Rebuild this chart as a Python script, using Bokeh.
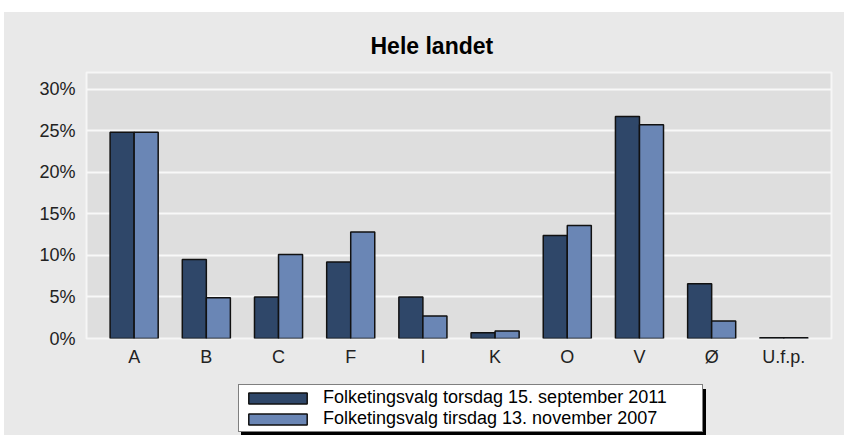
from bokeh.plotting import figure
from bokeh.layouts import column
from bokeh.models import (ColumnDataSource, FactorRange, Range1d, FixedTicker,
                          PrintfTickFormatter, Legend, LegendItem)
from bokeh.transform import dodge
from bokeh.embed import file_html
from bokeh.resources import INLINE

# ---- data ----
categories = ["A", "B", "C", "F", "I", "K", "O", "V", "Ø", "U.f.p."]
v2011 = [24.8, 9.5, 5.0, 9.2, 5.0, 0.7, 12.4, 26.7, 6.6, 0.1]
v2007 = [24.8, 4.9, 10.1, 12.8, 2.7, 0.9, 13.6, 25.7, 2.1, 0.1]
series_labels = ["Folketingsvalg torsdag 15. september 2011",
                 "Folketingsvalg tirsdag 13. november 2007"]
series_colors = ["#2f4769", "#6a86b5"]
y_ticks = [0, 5, 10, 15, 20, 25, 30]
title_text = "Hele landet"

src = ColumnDataSource(dict(cat=categories, v2011=v2011, v2007=v2007))

FONT = "Liberation Sans"
OUTER = "#e9e9e9"
BAR_LINE = "#111111"

p = figure(x_range=FactorRange(factors=categories, range_padding=0.032),
           y_range=Range1d(0, 32),
           width=840, height=364,
           output_backend="svg", toolbar_location=None,
           min_border_left=82, min_border_right=13,
           min_border_top=60, min_border_bottom=38,
           title=title_text)

p.background_fill_color = "#dedede"
p.border_fill_color = OUTER
p.outline_line_color = "#f6f6f6"
p.outline_line_width = 2

p.title.align = "left"
p.title.offset = 284
p.title.standoff = 28
p.title.text_font = FONT
p.title.text_font_size = "23px"
p.title.text_font_style = "bold"
p.title.text_color = "#000000"

p.xgrid.grid_line_color = None
p.ygrid.grid_line_color = "#f8f8f8"
p.ygrid.grid_line_width = 2

p.yaxis.ticker = FixedTicker(ticks=y_ticks)
p.yaxis.formatter = PrintfTickFormatter(format="%d%%")

for ax in (p.xaxis, p.yaxis):
    ax.axis_line_color = None
    ax.major_tick_line_color = None
    ax.minor_tick_line_color = None
    ax.major_tick_out = 0
    ax.major_tick_in = 0
    ax.major_label_text_font = FONT
    ax.major_label_text_font_size = "18px"
    ax.major_label_text_color = "#222222"
p.yaxis.major_label_standoff = 11
p.xaxis.major_label_standoff = 8

p.vbar(x=dodge("cat", -0.1665, range=p.x_range), top="v2011", width=0.333,
       source=src, fill_color=series_colors[0], line_color=BAR_LINE, line_width=1.5)
p.vbar(x=dodge("cat", 0.1665, range=p.x_range), top="v2007", width=0.333,
       source=src, fill_color=series_colors[1], line_color=BAR_LINE, line_width=1.5)

# ---- legend strip below the chart (its frame lines up with the chart frame) ----
lp = figure(width=840, height=59,
            x_range=FactorRange(factors=categories), y_range=Range1d(100, 101),
            output_backend="svg", toolbar_location=None,
            x_axis_type=None, y_axis_type=None,
            min_border_left=0, min_border_right=0, min_border_top=0, min_border_bottom=0)
lp.background_fill_color = OUTER
lp.background_fill_alpha = 1.0
lp.border_fill_color = OUTER
lp.outline_line_color = None
lp.grid.grid_line_color = None

# legend keys (renderers hidden, only their legend swatches are shown)
k1 = lp.vbar(x="cat", top="v2011", width=0.3, source=src, visible=False,
             fill_color=series_colors[0], line_color=BAR_LINE, line_width=1.5)
k2 = lp.vbar(x="cat", top="v2007", width=0.3, source=src, visible=False,
             fill_color=series_colors[1], line_color=BAR_LINE, line_width=1.5)

def make_legend(loc, labels, shadow=False):
    lg = Legend(items=[LegendItem(label=labels[0], renderers=[k1]),
                       LegendItem(label=labels[1], renderers=[k2])],
                location=loc, orientation="vertical",
                glyph_width=73, glyph_height=14, label_standoff=9,
                label_width=377, label_height=20, spacing=-2, padding=2, margin=0,
                label_text_font=FONT, label_text_font_size="18px",
                label_text_color="#000000",
                border_line_color="#000000", border_line_width=1,
                background_fill_color="#000000" if shadow else "#ffffff",
                background_fill_alpha=1.0, click_policy="none")
    return lg

# drop shadow (a black box of the same size, offset 3px) and the legend itself
lp.add_layout(make_legend((155, 0), [" ", " "], shadow=True), "center")
lp.add_layout(make_legend((152, 3), series_labels), "center")

layout = column(p, lp, spacing=0, margin=(12, 0, 0, 4),
                styles={"background-color": OUTER})
open("out.html", "w").write(file_html(layout, INLINE))
